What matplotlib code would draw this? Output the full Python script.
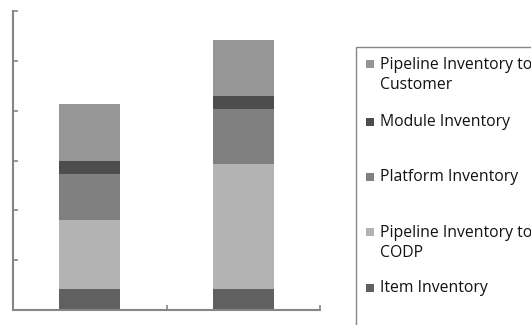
import numpy as np
import matplotlib.pyplot as plt
from matplotlib.patches import Rectangle

plt.rcParams['font.family'] = ['Open Sans', 'DejaVu Sans']

# Stacked inventory components for the two scenarios (bottom to top)
scenarios = ['A', 'B']
item_inv = [0.42, 0.42]
pipeline_codp = [1.38, 2.51]
platform_inv = [0.92, 1.10]
module_inv = [0.27, 0.26]
pipeline_customer = [1.14, 1.12]

series = [
    ('Item Inventory', item_inv, '#606060'),
    ('Pipeline Inventory to\nCODP', pipeline_codp, '#b3b3b3'),
    ('Platform Inventory', platform_inv, '#808080'),
    ('Module Inventory', module_inv, '#4d4d4d'),
    ('Pipeline Inventory to\nCustomer', pipeline_customer, '#969696'),
]

W, H = 531, 325
fig = plt.figure(figsize=(W / 100, H / 100), dpi=100)
ax = fig.add_axes([13 / W, 1 - 310 / H, (320 - 13) / W, (310 - 11) / H])

x = np.arange(len(scenarios))
bottom = np.zeros(len(scenarios))
for name, vals, col in series:
    ax.bar(x, vals, width=0.4, bottom=bottom, color=col, edgecolor='none')
    bottom += np.array(vals)

ax.set_xlim(-0.5, 1.5)
ax.set_ylim(0, 6)
ax.set_yticks(np.arange(0, 7, 1))
ax.set_yticklabels([])
ax.set_xticks([0.5, 1.5])
ax.set_xticklabels([])
ax.tick_params(direction='in', length=3.6, width=1.2, color='#868686')
for s in ['top', 'right']:
    ax.spines[s].set_visible(False)
for s in ['left', 'bottom']:
    ax.spines[s].set_color('#868686')
    ax.spines[s].set_linewidth(1.5)

# Legend panel drawn by hand, running off the right and bottom edges
fig.patches.append(Rectangle((356 / W, -0.1), 0.5, 1 - 47 / H + 0.1,
                             transform=fig.transFigure, facecolor='white',
                             edgecolor='#868686', linewidth=1.0))
entries = [
    (pipeline_customer, 'Pipeline Inventory to\nCustomer', '#969696', 75),
    (module_inv, 'Module Inventory', '#4d4d4d', 122),
    (platform_inv, 'Platform Inventory', '#808080', 177),
    (pipeline_codp, 'Pipeline Inventory to\nCODP', '#b3b3b3', 243),
    (item_inv, 'Item Inventory', '#606060', 288),
]
for _, label, col, yc in entries:
    nlines = label.count('\n') + 1
    y_first = yc - (nlines - 1) * 10.8
    fig.patches.append(Rectangle((366 / W, 1 - (y_first + 4) / H), 8 / W, 8 / H,
                                 transform=fig.transFigure, facecolor=col,
                                 edgecolor='none'))
    fig.text(380 / W, 1 - yc / H, label, fontsize=11.3, va='center', ha='left',
             linespacing=1.4, color='#111111')

fig.savefig('out.png', dpi=100)
